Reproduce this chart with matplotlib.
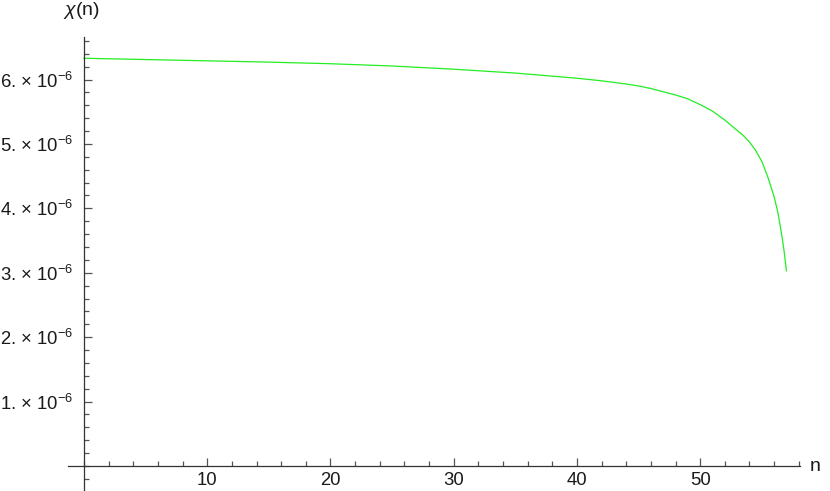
import matplotlib
matplotlib.use('Agg')
import matplotlib.pyplot as plt
from matplotlib.ticker import MultipleLocator, FixedLocator

plt.rcParams['font.family'] = ['Liberation Sans', 'DejaVu Sans']
plt.rcParams['mathtext.fontset'] = 'custom'
plt.rcParams['mathtext.rm'] = 'Liberation Sans'
plt.rcParams['mathtext.it'] = 'Liberation Sans:italic'
plt.rcParams['mathtext.default'] = 'regular'

# values
n = [0, 5, 10, 15, 20, 25, 30, 35, 40, 42, 44, 45, 46, 47, 48, 49, 50, 51, 52,
     52.5, 53, 53.5, 54, 54.5, 55, 55.5, 56, 56.3, 56.6, 56.8, 57.0]
chi = [6.33, 6.31, 6.29, 6.27, 6.245, 6.21, 6.16, 6.10, 6.02, 5.98, 5.93, 5.90,
       5.86, 5.81, 5.76, 5.70, 5.61, 5.51, 5.37, 5.29, 5.21, 5.13, 5.03, 4.90,
       4.73, 4.48, 4.18, 3.94, 3.61, 3.35, 3.03]
chi = [c * 1e-6 for c in chi]

x_ticks = [10, 20, 30, 40, 50]
y_ticks = [1e-6, 2e-6, 3e-6, 4e-6, 5e-6, 6e-6]
y_ticklabels = ['%d. × 10$^{-6}$' % k for k in range(1, 7)]

fig = plt.figure(figsize=(8.3, 4.91), dpi=100)
ax = fig.add_axes([68 / 830, 0, 732 / 830, 454 / 491])

ax.plot(n, chi, color='#22ee22', lw=0.9)

ax.set_xlim(-1.3, 58.1)
ax.set_ylim(-0.388e-6, 6.66e-6)

for side in ['top', 'right']:
    ax.spines[side].set_visible(False)
ax.spines['left'].set_position(('data', 0))
ax.spines['bottom'].set_position(('data', 0))
for side in ['left', 'bottom']:
    ax.spines[side].set_color('#333333')
    ax.spines[side].set_linewidth(0.9)

ax.xaxis.set_major_locator(FixedLocator(x_ticks))
ax.xaxis.set_minor_locator(MultipleLocator(2))
ax.yaxis.set_major_locator(FixedLocator(y_ticks))
ax.set_yticklabels(y_ticklabels)
ax.yaxis.set_minor_locator(MultipleLocator(0.2e-6))

ax.tick_params(which='both', direction='in', color='#555555', width=0.9,
               labelsize=13.3, labelcolor='#1a1a1a')
ax.tick_params(which='major', length=6)
ax.tick_params(which='minor', length=3.5)
ax.tick_params(axis='y', pad=8)
ax.tick_params(axis='x', pad=4.5)

ax.text(1.013, 0, 'n', transform=ax.get_yaxis_transform(), fontsize=14,
        ha='left', va='center', color='#1a1a1a')
ax.text(-0.2, 1.035, r'$\mathit{\chi}$(n)', transform=ax.get_xaxis_transform(),
        fontsize=14, ha='center', va='bottom', color='#1a1a1a')

fig.savefig('out.png', dpi=100)
